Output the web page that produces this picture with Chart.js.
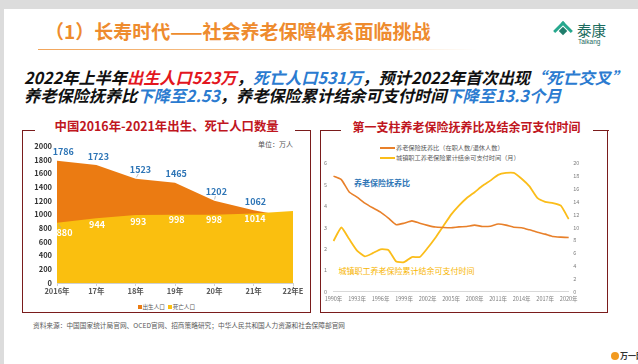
<!DOCTYPE html>
<html><head><meta charset="utf-8">
<script src="https://cdn.jsdelivr.net/npm/chart.js@4.4.1/dist/chart.umd.min.js"></script>
<style>
html,body{margin:0;padding:0;}
body{width:638px;height:364px;background:#dcdcdc;position:relative;overflow:hidden;font-family:"Noto Sans CJK SC","Noto Sans",sans-serif;}
#slide{position:absolute;left:4px;top:9px;width:634px;height:355px;background:#fff;}
.abs{position:absolute;white-space:nowrap;}
.title{left:45px;top:20.5px;font-size:19px;line-height:19px;font-weight:bold;color:#EE8B2E;}
.uline{left:38px;top:49px;width:440px;height:1px;background:linear-gradient(90deg,#f2a55a,#f7c999 60%,rgba(255,255,255,0));}
.head{left:24px;font-size:16.2px;line-height:16px;font-weight:bold;font-style:italic;color:#111;}
.red{color:#E3161E;}
.blue{color:#2B7BD0;}
.box{border:1.5px solid #7a1c1c;border-top:none;}
.seg{height:0;border-top:1.5px solid #7a1c1c;}
.ptitle{font-size:12.4px;line-height:13px;font-weight:bold;color:#C0161E;transform:translateX(-50%);}
.small{font-size:7px;line-height:7px;color:#555;}
canvas{position:absolute;}
.lg{font-size:6.2px;line-height:7px;color:#595959;}
.sw{display:inline-block;width:15px;height:2px;vertical-align:middle;margin-right:1px;}
.sq{display:inline-block;width:3.5px;height:3.5px;vertical-align:middle;margin-right:1px;}
</style>
</head><body>
<div id="slide"></div>
<div class="abs title">（1）长寿时代——社会养老保障体系面临挑战</div>
<div class="abs uline"></div>
<!-- logo -->
<div class="abs" style="left:556px;top:24px;width:11px;height:11px;transform:rotate(45deg);border-top:3px solid #27a88e;border-left:3px solid #27a88e;"></div>
<div class="abs" style="left:560px;top:28px;width:6px;height:6px;transform:rotate(45deg);background:#1f7d6b;"></div>
<div class="abs" style="left:577px;top:21.5px;font-size:14.5px;line-height:15px;color:#1b6b5e;font-family:'Noto Sans CJK SC';">泰康</div>
<div class="abs" style="left:578px;top:38px;font-size:6.5px;line-height:7px;color:#1b6b5e;font-family:'Liberation Sans',sans-serif;">Taikang</div>

<div class="abs head" style="top:68.7px;">2022年上半年<span class="red">出生人口523万</span>，<span class="blue">死亡人口531万</span>，预计2022年首次出现<span class="blue">“死亡交叉”</span></div>
<div class="abs head" style="top:87px;">养老保险抚养比<span class="blue">下降至2.53</span>，养老保险累计结余可支付时间<span class="blue">下降至13.3个月</span></div>

<!-- left panel -->
<div class="abs box" style="left:22px;top:130px;width:287px;height:182px;"></div>
<div class="abs seg" style="left:22px;top:130px;width:13px;"></div>
<div class="abs seg" style="left:295px;top:130px;width:16px;"></div>
<div class="abs ptitle" style="left:166.7px;top:120px;">中国2016年-2021年出生、死亡人口数量</div>
<div class="abs small" style="left:258px;top:141px;">单位：万人</div>
<div class="abs lg" style="left:138px;top:303.5px;font-size:5.6px;"><span class="sq" style="background:#EB7B12"></span>出生人口 <span class="sq" style="background:#FABF0F;margin-left:2px"></span>死亡人口</div>
<canvas id="c1" width="288" height="172" style="left:22px;top:132px;"></canvas>

<!-- right panel -->
<div class="abs box" style="left:319.5px;top:130px;width:286px;height:182px;"></div>
<div class="abs seg" style="left:319.5px;top:130px;width:21px;"></div>
<div class="abs seg" style="left:593px;top:130px;width:15.5px;"></div>
<div class="abs ptitle" style="left:466.5px;top:120px;font-size:12px;">第一支柱养老保险抚养比及结余可支付时间</div>
<div class="abs lg" style="left:380px;top:144px;"><span class="sw" style="background:#E8802A"></span>养老保险抚养比（在职人数/退休人数）</div>
<div class="abs lg" style="left:380px;top:154px;"><span class="sw" style="background:#FBBD1A"></span>城镇职工养老保险累计结余可支付时间（月）</div>
<div class="abs" style="left:354px;top:179px;font-size:8px;line-height:8px;font-weight:bold;color:#2E75B6;">养老保险抚养比</div>
<div class="abs" style="left:338.5px;top:266.5px;font-size:8px;line-height:8px;color:#F7B500;">城镇职工养老保险累计结余可支付时间</div>
<canvas id="c2" width="288" height="170" style="left:320px;top:140px;"></canvas>

<div class="abs" style="left:33px;top:322px;font-size:6.7px;line-height:7px;color:#595959;">资料来源：中国国家统计局官网、OCED官网、招商策略研究；中华人民共和国人力资源和社会保障部官网</div>
<div class="abs" style="left:611px;top:352px;width:8px;height:8px;border-radius:50%;background:#f29a1f;"></div>
<div class="abs" style="left:620px;top:351px;font-size:8px;line-height:9px;font-weight:bold;color:#333;">万一网</div>

<script>
// ---- data: left chart ----
const popCategories = ['2016年','17年','18年','19年','20年','21年','22年E'];
const birthValues   = [1786, 1723, 1523, 1465, 1202, 1062, 956];
const deathValues   = [880, 944, 993, 998, 998, 1014, 1050];
const popAxisTicks  = [0, 200, 400, 600, 800, 1000, 1200, 1400, 1600, 1800, 2000];
const labelCount    = 6; // labelled categories (2016-2021)

// ---- data: right chart ----
const pensionYears = ['1990年','1991年','1992年','1993年','1994年','1995年','1996年','1997年','1998年','1999年',
  '2000年','2001年','2002年','2003年','2004年','2005年','2006年','2007年','2008年','2009年',
  '2010年','2011年','2012年','2013年','2014年','2015年','2016年','2017年','2018年','2019年','2020年'];
const dependencyRatio = [5.40,5.24,4.66,4.42,4.14,3.92,3.72,3.44,3.13,3.20,3.31,3.20,3.10,3.02,3.00,2.99,3.03,3.05,3.11,3.05,3.06,3.16,3.11,3.01,2.99,2.89,2.78,2.69,2.58,2.55,2.53];
const payableMonths   = [7.9,10.0,8.2,6.4,5.5,6.0,6.6,6.5,4.7,4.6,5.4,5.4,6.8,8.4,10.2,12.0,13.4,14.6,15.5,16.5,17.3,18.2,18.5,18.5,17.6,16.4,14.6,14.0,13.8,13.4,11.3];
const ratioTicks  = [0,1,2,3,4,5,6];
const monthTicks  = [0,2,4,6,8,10,12,14,16,18,20];

Chart.defaults.font.family = '"Noto Sans CJK SC","Noto Sans",sans-serif';
Chart.defaults.animation = false;

// label placement styles (offsets relative to the library-computed point)
const birthLabelStyle = {color:'#2E75B6', dx:[6.3,2,4.8,1.2,2,1.8], dy:-8.6, leader:[false,false,true,false,true,false]};
const deathLabelStyle = {color:'#FFFFFF', dx:[7.5,0.7,2.6,1.7,-0.3,1.3], dy:[9.8,5.8,6.9,5.2,5.2,5.3], leader:[true,false,false,false,false,false]};

const valueLabels = {
  id:'valueLabels',
  afterDatasetsDraw(chart){
    const ctx = chart.ctx;
    ctx.save();
    ctx.font = 'bold 9px "Noto Sans CJK SC","Noto Sans",sans-serif';
    ctx.textAlign = 'center';
    ctx.textBaseline = 'middle';
    chart.data.datasets.forEach((ds, i) => {
      const st = ds.labelStyle; if (!st) return;
      const meta = chart.getDatasetMeta(i);
      meta.data.forEach((pt, j) => {
        if (j >= labelCount) return;
        const dy = Array.isArray(st.dy) ? st.dy[j] : st.dy;
        const x = pt.x + st.dx[j], y = pt.y + dy;
        if (st.leader[j]) {
          ctx.strokeStyle = '#a6a6a6'; ctx.lineWidth = 0.7;
          ctx.beginPath();
          ctx.moveTo(pt.x + (x-pt.x)*0.15, pt.y + (y-pt.y)*0.15);
          ctx.lineTo(pt.x + (x-pt.x)*0.55, pt.y + (y-pt.y)*0.55);
          ctx.stroke();
        }
        ctx.fillStyle = st.color;
        ctx.fillText(String(ds.data[j]), x, y);
      });
    });
    ctx.restore();
  }
};

new Chart(document.getElementById('c1'), {
  type:'line',
  data:{
    labels: popCategories,
    datasets:[
      {label:'死亡人口', data: deathValues, order:0, fill:'origin', backgroundColor:'#FABF0F', borderWidth:0, pointRadius:0, tension:0, labelStyle: deathLabelStyle},
      {label:'出生人口', data: birthValues, order:1, fill:'origin', backgroundColor:'#EB7B12', borderWidth:0, pointRadius:0, tension:0, labelStyle: birthLabelStyle}
    ]
  },
  options:{
    responsive:false,
    layout:{padding:{top:14,right:17,left:0,bottom:0}},
    plugins:{legend:{display:false}, tooltip:{enabled:false}},
    scales:{
      x:{
        afterFit(s){ s.height = 21; },
        grid:{display:true, drawOnChartArea:false, drawTicks:true, tickLength:3, color:'#d0d0d0'},
        border:{display:true, color:'#d0d0d0'},
        ticks:{padding:1, maxRotation:0, autoSkip:false, color:'#595959', font:{size:7.5, weight:'bold'}}
      },
      y:{
        min:popAxisTicks[0], max:popAxisTicks[popAxisTicks.length-1],
        afterFit(s){ s.width = 35; },
        afterBuildTicks(s){ s.ticks = popAxisTicks.map(v => ({value:v})); },
        grid:{display:false, drawTicks:false},
        border:{display:false},
        ticks:{padding:5, color:'#333', font:{size:7.5, weight:'bold'}, callback:(v) => String(v)}
      }
    }
  },
  plugins:[valueLabels]
});

new Chart(document.getElementById('c2'), {
  type:'line',
  data:{
    labels: pensionYears,
    datasets:[
      {label:'养老保险抚养比（在职人数/退休人数）', data: dependencyRatio, yAxisID:'y', borderColor:'#E8802A', borderWidth:1.6, pointRadius:0, tension:0.15, fill:false},
      {label:'城镇职工养老保险累计结余可支付时间（月）', data: payableMonths, yAxisID:'y1', borderColor:'#FBBD1A', borderWidth:1.8, pointRadius:0, tension:0.15, fill:false}
    ]
  },
  options:{
    responsive:false,
    layout:{padding:{top:23.3,right:0,left:0,bottom:0}},
    plugins:{legend:{display:false}, tooltip:{enabled:false}},
    scales:{
      x:{
        afterFit(s){ s.height = 18.3; },
        grid:{display:false, drawTicks:false},
        border:{display:true, color:'#d9d9d9'},
        ticks:{padding:4, maxRotation:0, autoSkip:false, color:'#7f7f7f', font:{size:5.5},
          callback(v, i){ return i % 3 === 0 ? this.getLabelForValue(v) : ''; }}
      },
      y:{
        position:'left', min:0, max:6,
        afterFit(s){ s.width = 13.5; },
        afterBuildTicks(s){ s.ticks = ratioTicks.map(v => ({value:v})); },
        grid:{display:false, drawTicks:false}, border:{display:false},
        ticks:{padding:6.5, color:'#7f7f7f', font:{size:5.5}}
      },
      y1:{
        position:'right', min:0, max:20,
        afterFit(s){ s.width = 39.3; },
        afterBuildTicks(s){ s.ticks = monthTicks.map(v => ({value:v})); },
        grid:{display:false, drawTicks:false}, border:{display:false},
        ticks:{padding:4.5, color:'#7f7f7f', font:{size:5.5}}
      }
    }
  }
});
</script>
</body></html>
